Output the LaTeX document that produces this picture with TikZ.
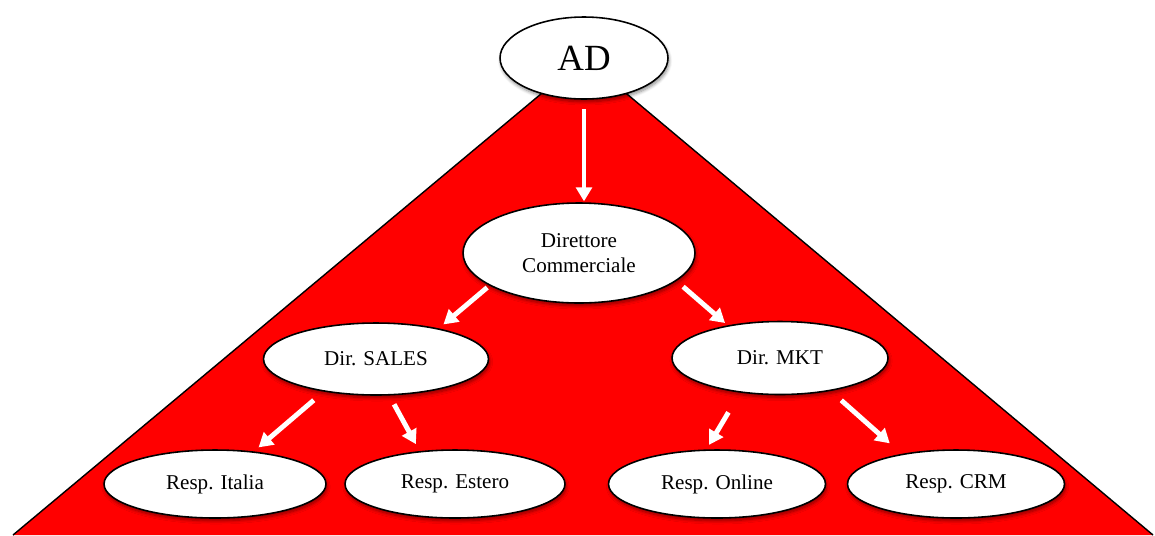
\documentclass[tikz,border=0pt]{standalone}
\usepackage{fontspec}
\setmainfont{Liberation Serif}
\usetikzlibrary{shapes.geometric,arrows.meta,shadows.blur}
\begin{document}
\begin{tikzpicture}[x=0.02cm, y=-0.02cm,
  unit/.style={ellipse, draw, fill=white, line width=0.9pt, inner sep=0pt,
    blur shadow={shadow xshift=0.6pt, shadow yshift=-1.6pt, shadow opacity=45, shadow blur steps=6},
    font=\fontsize{12}{14.5}\selectfont, align=center},
  arr/.style={draw=white, line width=2.8pt, -{Triangle[length=8pt, width=9pt]}}]
\useasboundingbox (0,0) rectangle (1155,535);
\coordinate (apex) at (584,58);
\draw[fill=red, line width=0.8pt] (13,535) -- (apex) -- (1153,535);
\node[unit, minimum width=3.36cm, minimum height=1.64cm, font=\fontsize{21}{24}\selectfont] at (584,58) (ad) {AD};
\node[unit, minimum width=4.64cm, minimum height=2cm] at (579,253) (dc) {Direttore\\Commerciale};
\node[unit, minimum width=4.5cm, minimum height=1.44cm] at (376,359) (sales) {Dir. SALES};
\node[unit, minimum width=4.32cm, minimum height=1.46cm] at (780,358) (mkt) {Dir. MKT};
\node[unit, minimum width=4.44cm, minimum height=1.36cm] at (215,484) (italia) {Resp. Italia};
\node[unit, minimum width=4.4cm, minimum height=1.36cm] at (455,484) (estero) {Resp. Estero};
\node[unit, minimum width=4.34cm, minimum height=1.36cm] at (717,484) (online) {Resp. Online};
\node[unit, minimum width=4.34cm, minimum height=1.36cm] at (956,484) (crm) {Resp. CRM};
\draw[arr, shorten <=5.5pt, shorten >=0.5pt] (ad.south) -- (ad.south |- dc.north);
\draw[arr, shorten <=1.7pt, shorten >=3.5pt] (dc.200) -- (sales.26);
\draw[arr, shorten <=5pt, shorten >=2pt] (dc.344) -- (mkt.148);
\draw[arr, shorten <=7.5pt, shorten >=3.5pt] (sales.212) -- (italia.40);
\draw[arr, shorten <=5.7pt, shorten >=4.5pt] (sales.290) -- (estero.137);
\draw[arr, shorten <=13pt, shorten >=3pt] (mkt.221) -- (online.107);
\draw[arr, shorten <=8pt, shorten >=9pt] (mkt.327) -- (crm.151);
\end{tikzpicture}
\end{document}
